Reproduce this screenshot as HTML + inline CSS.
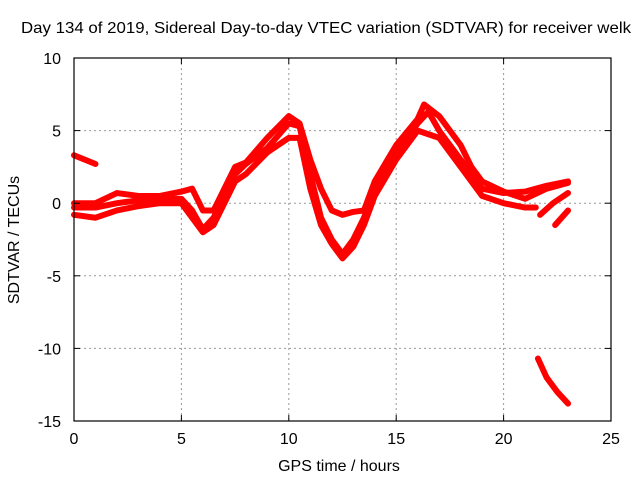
<!DOCTYPE html>
<html><head><meta charset="utf-8"><style>
html,body{margin:0;padding:0;background:#fff;}
svg{display:block;font-family:"Liberation Sans",sans-serif;}
</style></head><body>
<svg id="chart" width="640" height="480" viewBox="0 0 640 480">
<text x="326" y="33" font-size="16" text-anchor="middle" textLength="610" lengthAdjust="spacingAndGlyphs" fill="#000">Day 134 of 2019, Sidereal Day-to-day VTEC variation (SDTVAR) for receiver welk</text>
<text x="339" y="471" font-size="16" text-anchor="middle">GPS time / hours</text>
<text transform="translate(19,240) rotate(-90)" font-size="16" text-anchor="middle">SDTVAR / TECUs</text>
<g id="grid"></g>
<g id="series"></g>
<rect x="74" y="58" width="537" height="363" fill="none" stroke="#000" stroke-width="1.2"/>
<g id="ticks"></g>
</svg>
<script>
const xTicks=[0,5,10,15,20,25];
const yTicks=[10,5,0,-5,-10,-15];
const trackAx=[0,1,2,3,4,5,5.5,6,6.5,7,7.5,8,9,10,10.5,11,11.5,12,12.5,13,13.5,14,15,16,16.5,17,18,19,20,21,22,23];
const trackAy=[-0.3,-0.3,0,0.2,0.3,0.3,-0.5,-1.8,-1,0.5,2,2.7,3.8,5.5,5.3,2,-1,-2.5,-3.5,-2.5,-1,1,3.5,5.5,6.3,5,3,1,0.7,0.8,1.2,1.5];
const trackBx=[0,1,2,3,4,5,5.5,6,6.5,7,7.5,8,9,10,10.5,11,11.5,12,12.5,13,13.5,14,15,16,16.3,17,18,18.5,19,20,21,22,23];
const trackBy=[0,0,0.7,0.5,0.5,0.8,1,-0.5,-0.5,1,2.5,2.8,4.5,6,5.5,3,1,-0.5,-0.8,-0.6,-0.5,1.5,4,5.8,6.8,6,4,2.5,1.5,0.8,0.3,1,1.4];
const trackCx=[0,1,2,3,4,5,5.5,6,6.5,7,7.5,8,9,10,10.5,11,11.5,12,12.5,13,13.5,14,15,16,17,18,19,20,21,21.5];
const trackCy=[-0.8,-1,-0.5,-0.2,0,0,-1,-2,-1.5,0,1.5,2,3.5,4.5,4.5,1,-1.5,-2.8,-3.8,-3,-1.5,0.5,3,5,4.5,2.5,0.5,0,-0.3,-0.3];
const trackDx=[0,0.5,1];
const trackDy=[3.3,3,2.7];
const trackEx=[21.6,22,22.5,23];
const trackEy=[-10.7,-12,-13,-13.8];
const trackFx=[21.7,22.3,23];
const trackFy=[-0.8,0,0.7];
const trackGx=[22.4,22.7,23];
const trackGy=[-1.5,-1,-0.5];
const tracks=[[trackAx,trackAy],[trackBx,trackBy],[trackCx,trackCy],[trackDx,trackDy],[trackEx,trackEy],[trackFx,trackFy],[trackGx,trackGy]];
const L=74,R=611,T=58,B=421;
const sx=v=>L+(v-0)/25*(R-L);
const sy=v=>B-(v+15)/25*(B-T);
const NS="http://www.w3.org/2000/svg";
const grid=document.getElementById('grid'),ticks=document.getElementById('ticks'),ser=document.getElementById('series');
function mk(tag,attrs,parent){const e=document.createElementNS(NS,tag);for(const k in attrs)e.setAttribute(k,attrs[k]);parent.appendChild(e);return e;}
xTicks.forEach(v=>{
 const x=sx(v);
 if(v>0&&v<25){const g=mk('line',{x1:x,x2:x,y1:T,y2:B,stroke:'#999','stroke-dasharray':'2,3'},grid);
 
 }
 const t=mk('line',{x1:x,x2:x,y1:B,y2:B-6,stroke:'#000'},ticks);
 
 
 const t2=mk('line',{x1:x,x2:x,y1:T,y2:T+6,stroke:'#000'},ticks);
 
 
 const l=mk('text',{x:x,y:B+23,'font-size':16,'text-anchor':'middle'},ticks);l.textContent=v;
 
 
});
yTicks.forEach(v=>{
 const y=sy(v);
 if(v>-15&&v<10){const g=mk('line',{x1:L,x2:R,y1:y,y2:y,stroke:'#999','stroke-dasharray':'2,3'},grid);
 
 }
 const t=mk('line',{x1:L,x2:L+6,y1:y,y2:y,stroke:'#000'},ticks);
 
 
 const t2=mk('line',{x1:R,x2:R-6,y1:y,y2:y,stroke:'#000'},ticks);
 
 
 const l=mk('text',{x:L-13,y:y+6,'font-size':16,'text-anchor':'end'},ticks);l.textContent=v;
 
 
});
tracks.forEach(([xs,ys])=>{
 const pts=xs.map((x,i)=>sx(x)+','+sy(ys[i])).join(' ');
 const p=mk('polyline',{points:pts,fill:'none',stroke:'#ff0000','stroke-width':6,'stroke-linejoin':'round','stroke-linecap':'round'},ser);
 
 
});
</script>
</body></html>
